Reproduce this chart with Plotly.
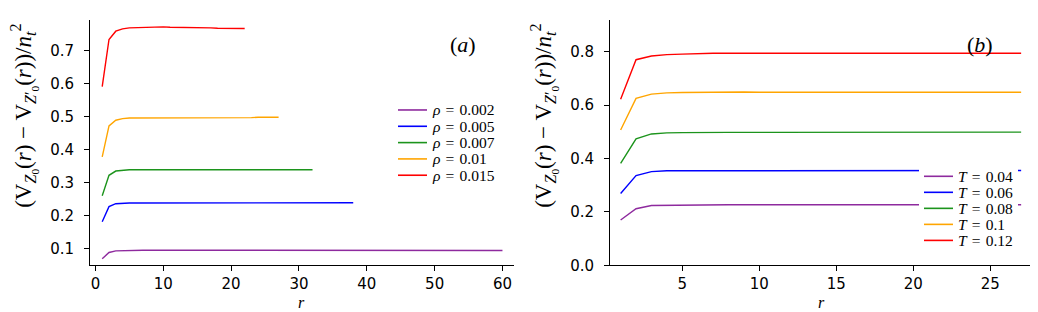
import plotly.graph_objects as go

# ---- Panel (a): rho series ----
rho_labels = ["0.002", "0.005", "0.007", "0.01", "0.015"]
r_002 = list(range(1, 61))
v_002 = [0.070, 0.089, 0.094, 0.095, 0.096, 0.096, 0.096, 0.096, 0.096, 0.096,
         0.096, 0.096, 0.096, 0.095, 0.095, 0.095, 0.095, 0.095, 0.095, 0.095,
         0.095, 0.095, 0.095, 0.095, 0.095, 0.095, 0.095, 0.095, 0.095, 0.095,
         0.095, 0.095, 0.095, 0.095, 0.095, 0.095, 0.095, 0.095, 0.095, 0.095,
         0.095, 0.095, 0.095, 0.095, 0.095, 0.095, 0.095, 0.095, 0.095, 0.095,
         0.095, 0.095, 0.095, 0.095, 0.095, 0.095, 0.095, 0.095, 0.095, 0.095]
r_005 = list(range(1, 39))
v_005 = [0.182, 0.228, 0.237, 0.239, 0.239, 0.239, 0.239, 0.240, 0.240, 0.240,
         0.240, 0.240, 0.240, 0.240, 0.240, 0.240, 0.240, 0.240, 0.240, 0.240,
         0.240, 0.240, 0.240, 0.240, 0.240, 0.239, 0.239, 0.240, 0.240, 0.240,
         0.240, 0.240, 0.240, 0.240, 0.240, 0.240, 0.240, 0.240]
r_007 = list(range(1, 33))
v_007 = [0.261, 0.323, 0.336, 0.339, 0.340, 0.340, 0.340, 0.340, 0.340, 0.340,
         0.341, 0.341, 0.341, 0.341, 0.341, 0.341, 0.342, 0.342, 0.342, 0.342,
         0.342, 0.341, 0.341, 0.340, 0.340, 0.340, 0.340, 0.340, 0.340, 0.340,
         0.340, 0.340]
r_01 = list(range(1, 28))
v_01 = [0.379, 0.473, 0.490, 0.495, 0.497, 0.497, 0.498, 0.498, 0.498, 0.498,
        0.498, 0.498, 0.498, 0.498, 0.498, 0.497, 0.496, 0.497, 0.497, 0.498,
        0.498, 0.498, 0.498, 0.499, 0.499, 0.499, 0.499]
r_015 = list(range(1, 23))
v_015 = [0.592, 0.735, 0.760, 0.767, 0.770, 0.771, 0.772, 0.772, 0.772, 0.773,
         0.772, 0.772, 0.771, 0.770, 0.771, 0.771, 0.770, 0.769, 0.769, 0.768,
         0.768, 0.768]

# ---- Panel (b): T series ----
T_labels = ["0.04", "0.06", "0.08", "0.1", "0.12"]
r_T = list(range(1, 28))
v_T004 = [0.170, 0.212, 0.224, 0.225, 0.226, 0.226, 0.226, 0.227, 0.227, 0.227,
          0.227, 0.227, 0.227, 0.227, 0.227, 0.226, 0.226, 0.227, 0.227, 0.227,
          0.227, 0.227, 0.227, 0.227, 0.227, 0.227, 0.227]
v_T006 = [0.269, 0.336, 0.351, 0.354, 0.354, 0.354, 0.354, 0.355, 0.355, 0.355,
          0.355, 0.355, 0.355, 0.355, 0.355, 0.355, 0.355, 0.355, 0.356, 0.356,
          0.355, 0.355, 0.355, 0.355, 0.355, 0.355, 0.355]
v_T008 = [0.382, 0.474, 0.492, 0.496, 0.497, 0.498, 0.498, 0.498, 0.498, 0.498,
          0.498, 0.498, 0.498, 0.498, 0.498, 0.498, 0.497, 0.498, 0.498, 0.498,
          0.498, 0.498, 0.498, 0.498, 0.499, 0.499, 0.499]
v_T01 = [0.507, 0.625, 0.641, 0.646, 0.647, 0.648, 0.648, 0.649, 0.649, 0.648,
         0.648, 0.648, 0.649, 0.649, 0.649, 0.649, 0.649, 0.649, 0.649, 0.649,
         0.650, 0.649, 0.649, 0.649, 0.649, 0.649, 0.648]
v_T012 = [0.622, 0.770, 0.784, 0.789, 0.791, 0.793, 0.794, 0.794, 0.794, 0.794,
          0.794, 0.794, 0.794, 0.793, 0.794, 0.794, 0.794, 0.794, 0.794, 0.794,
          0.794, 0.794, 0.794, 0.794, 0.794, 0.794, 0.794]

colors = ["#8E2A9E", "#0000FF", "#1C941C", "#FFA500", "#FF0000"]

SERIF = "Liberation Serif"
SANS = "DejaVu Sans"
W, H = 1038, 312
EQ = "\u2004=\u2004"


def px(x):
    return x / W


def py(y):
    return (H - y) / H


fig = go.Figure()

a_series = [(r_002, v_002), (r_005, v_005), (r_007, v_007), (r_01, v_01), (r_015, v_015)]
for (rx, vy), lab, c in zip(a_series, rho_labels, colors):
    fig.add_trace(go.Scatter(x=rx, y=vy, mode="lines", line=dict(color=c, width=1.4),
                             name="<i>ρ</i>" + EQ + lab, xaxis="x", yaxis="y", showlegend=False))

b_series = [v_T004, v_T006, v_T008, v_T01, v_T012]
for vy, lab, c in zip(b_series, T_labels, colors):
    fig.add_trace(go.Scatter(x=r_T, y=vy, mode="lines", line=dict(color=c, width=1.4),
                             name="<i>T</i>" + EQ + lab, xaxis="x2", yaxis="y2", showlegend=False))

ydom = [py(265), py(12)]
axis_common = dict(showline=True, linecolor="black", linewidth=1, ticks="outside",
                   ticklen=5, tickcolor="black", showgrid=False, zeroline=False,
                   tickfont=dict(family=SANS, size=15, color="black"))

fig.update_layout(
    width=W, height=H, margin=dict(l=0, r=0, t=0, b=0),
    paper_bgcolor="white", plot_bgcolor="white", showlegend=False,
    xaxis=dict(domain=[px(82), px(506)], range=[-0.8, 61.7], tickvals=[0, 10, 20, 30, 40, 50, 60],
               anchor="y", **axis_common),
    yaxis=dict(domain=ydom, range=[0.05, 0.795], tickvals=[0.1, 0.2, 0.3, 0.4, 0.5, 0.6, 0.7],
               tickformat=".1f", anchor="x", ticklabelstandoff=7, **axis_common),
    xaxis2=dict(domain=[px(602), px(1025)], range=[0.31, 27.77], tickvals=[5, 10, 15, 20, 25],
                anchor="y2", **axis_common),
    yaxis2=dict(domain=ydom, range=[0.0, 0.92], tickvals=[0.0, 0.2, 0.4, 0.6, 0.8],
                tickformat=".1f", anchor="x2", ticklabelstandoff=7, **axis_common),
)

# ---- legends (drawn as layout decorations) ----
shapes = []
# white background box of legend (b), drawn over the curves
shapes.append(dict(type="rect", xref="paper", yref="paper", x0=px(911), x1=px(1010),
                   y0=py(164), y1=py(248), fillcolor="white", line=dict(width=0), layer="above"))
legend_specs = [
    (rho_labels, "<i>ρ</i>", 390, 105.0, 16.8),
    (T_labels, "<i>T</i>", 916, 173.3, 16.5),
]
for labels, sym, lx, ly0, dy in legend_specs:
    for i, (lab, c) in enumerate(zip(labels, colors)):
        yy = ly0 + i * dy
        shapes.append(dict(type="line", xref="paper", yref="paper", x0=px(lx), x1=px(lx + 29),
                           y0=py(yy), y1=py(yy), line=dict(color=c, width=1.6), layer="above"))
        fig.add_annotation(text=sym + EQ + lab, x=px(lx + 32), y=py(yy), xref="paper", yref="paper",
                           showarrow=False, xanchor="left", yanchor="middle",
                           font=dict(family=SERIF, size=15.5, color="black"))
fig.update_layout(shapes=shapes)

ytitle = ("(V<sub><i>Z</i><sub>0</sub></sub>(<i>r</i>) − V<sub><i>Z</i>′<sub>0</sub></sub>(<i>r</i>))"
          "/<i>n</i><sub><i>t</i></sub><sup>2</sup>")
for xp in [16, 536]:
    fig.add_annotation(text=ytitle, x=px(xp), y=py(111), xref="paper", yref="paper",
                       textangle=-90, showarrow=False, xanchor="center", yanchor="middle",
                       font=dict(family=SERIF, size=23, color="black"))
for xp in [293, 813]:
    fig.add_annotation(text="<i>r</i>", x=px(xp), y=py(303), xref="paper", yref="paper",
                       showarrow=False, xanchor="center", yanchor="middle",
                       font=dict(family=SERIF, size=16, color="black"))
for xp, t in [(455, "(<i>a</i>)"), (972, "(<i>b</i>)")]:
    fig.add_annotation(text=t, x=px(xp), y=py(38), xref="paper", yref="paper",
                       showarrow=False, xanchor="center", yanchor="middle",
                       font=dict(family=SERIF, size=22, color="black"))

fig.write_html("out.html")
